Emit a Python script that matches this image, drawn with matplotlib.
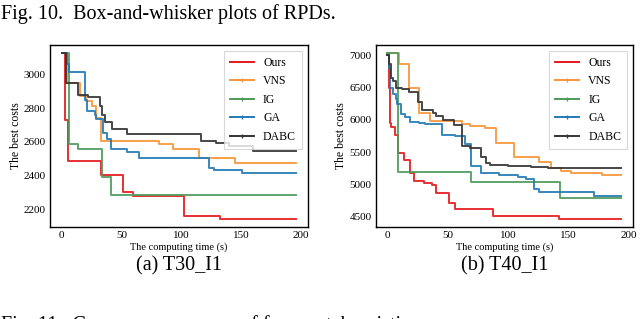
import numpy as np
import matplotlib
matplotlib.use('Agg')
import matplotlib.pyplot as plt
from matplotlib.lines import Line2D

plt.rcParams['font.family'] = ['Liberation Serif', 'DejaVu Serif']

# T30_I1
ours_t1 = [0, 3, 5, 33, 51.5, 60, 102, 132, 196]
ours_c1 = [3125, 2730, 2486, 2405, 2305, 2279, 2160, 2146, 2146]
vns_t1 = [0, 4.5, 15, 20, 25, 29, 33, 81, 93, 115, 145, 196]
vns_c1 = [3125, 2950, 2870, 2840, 2810, 2740, 2605, 2590, 2555, 2505, 2475, 2475]
ig_t1 = [0, 6, 13.5, 33.5, 41.5, 196]
ig_c1 = [3125, 2585, 2555, 2395, 2285, 2285]
ga_t1 = [0, 4.5, 6, 19.5, 21, 28, 29, 34.5, 37.5, 41.5, 55, 65, 123.5, 127.5, 151, 196]
ga_c1 = [3125, 3060, 3015, 2850, 2780, 2760, 2735, 2655, 2620, 2555, 2540, 2505, 2445, 2435, 2415, 2415]
dabc_t1 = [0, 3.5, 14, 22, 32, 34, 36.5, 42, 55, 116.5, 129, 140, 160, 196]
dabc_c1 = [3125, 2950, 2875, 2865, 2810, 2760, 2720, 2675, 2645, 2605, 2595, 2575, 2545, 2545]

# T40_I1
ours_t2 = [0, 1.5, 2, 3, 6.5, 8.5, 14, 18.5, 22, 30, 37, 40, 51, 56, 88, 142, 194]
ours_c2 = [7030, 6500, 5950, 5890, 5770, 5490, 5385, 5175, 5060, 5030, 4995, 4865, 4710, 4630, 4515, 4475, 4475]
vns_t2 = [0, 9.5, 18, 26, 35.5, 61.5, 68.5, 81, 90, 105, 125.5, 135.5, 144, 152, 178, 194]
vns_c2 = [7030, 6870, 6500, 6110, 5975, 5930, 5910, 5875, 5650, 5420, 5355, 5250, 5210, 5175, 5145, 5145]
ig_t2 = [0, 9, 69.5, 143.5, 194]
ig_c2 = [7030, 5190, 5035, 4785, 4785]
ga_t2 = [0, 1, 2, 5, 7, 8, 11, 15, 19, 26, 31.5, 45, 56, 64, 69.5, 78, 93, 108, 115, 122, 126, 171, 194]
ga_c2 = [7000, 6800, 6500, 6400, 6330, 6240, 6090, 6050, 5965, 5950, 5930, 5770, 5745, 5625, 5285, 5175, 5150, 5120, 5080, 4925, 4890, 4820, 4820]
dabc_t2 = [0, 1, 3, 5, 7, 12, 18, 25, 29, 38, 40, 46.5, 55, 61.5, 68.5, 78, 82, 85, 100, 119, 133, 194]
dabc_c2 = [7000, 6870, 6650, 6600, 6500, 6470, 6430, 6280, 6150, 6110, 6065, 6000, 5920, 5590, 5560, 5425, 5330, 5310, 5290, 5270, 5250, 5250]

names = ['Ours', 'VNS', 'IG', 'GA', 'DABC']
colors = ['#e3191c', '#f7953a', '#4f9a5c', '#2279b5', '#333333']
markers = [None, '|', '|', '|', '|']
yticks1 = [2200, 2400, 2600, 2800, 3000]
yticks2 = [4500, 5000, 5500, 6000, 6500, 7000]
xticks = [0, 50, 100, 150, 200]

panels = [
    ([(ours_t1, ours_c1), (vns_t1, vns_c1), (ig_t1, ig_c1), (ga_t1, ga_c1), (dabc_t1, dabc_c1)],
     yticks1, '(a) T30_I1', [0.078, 0.289, 0.403, 0.570]),
    ([(ours_t2, ours_c2), (vns_t2, vns_c2), (ig_t2, ig_c2), (ga_t2, ga_c2), (dabc_t2, dabc_c2)],
     yticks2, '(b) T40_I1', [0.587, 0.289, 0.402, 0.570]),
]

fig = plt.figure(figsize=(6.4, 3.19), dpi=100)

for series, yticks, caption, rect in panels:
    ax = fig.add_axes(rect)
    for (t, c), col in zip(series, colors):
        ax.step(t, c, where='post', color=col, lw=1.4, alpha=0.9)
    ax.set_xticks(xticks)
    ax.set_yticks(yticks)
    ax.tick_params(length=0, labelsize=8, pad=3)
    for s in ax.spines.values():
        s.set_color('black')
        s.set_linewidth(1.0)
    ax.set_xlabel('The computing time (s)', fontsize=7.5, labelpad=2)
    ax.set_ylabel('The best costs', fontsize=8.5, labelpad=1.5)
    handles = [Line2D([], [], color=col, lw=1.4, marker=m, markersize=3)
               for col, m in zip(colors, markers)]
    leg = ax.legend(handles, names, loc='upper right', fontsize=8.5,
                    fancybox=False, edgecolor='#d0d0d0', labelspacing=0.55,
                    handlelength=2.0, borderpad=0.5)
    leg.get_frame().set_linewidth(0.8)
    cx = rect[0] + rect[2] / 2
    fig.text(cx, 1 - 270 / 319, caption, ha='center', va='baseline', fontsize=14.5)

fig.text(0.002, 1 - 19 / 319, 'Fig. 10.  Box-and-whisker plots of RPDs.',
         ha='left', va='baseline', fontsize=14.5)
fig.text(0.002, 1 - 330 / 319, 'Fig. 11.  Convergence curves of four metaheuristics.',
         ha='left', va='baseline', fontsize=14.5)

fig.savefig('out.png', dpi=100)
